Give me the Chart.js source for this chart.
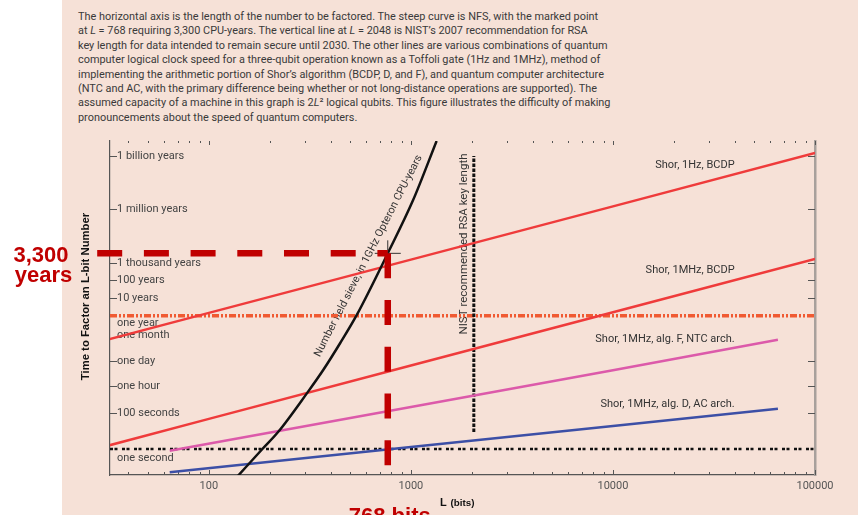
<!DOCTYPE html>
<html>
<head>
<meta charset="utf-8">
<script src="https://cdn.jsdelivr.net/npm/chart.js@4.4.0/dist/chart.umd.min.js"></script>
<style>
  html, body { margin: 0; padding: 0; background: #fff; }
  #wrap { position: relative; width: 858px; height: 515px; overflow: hidden; }
  #panel { position: absolute; left: 62px; top: 0; width: 796px; height: 515px; background: #f6e1d7; }
  #note { position: absolute; left: 78px; top: 10px; font: 10.9px Roboto, sans-serif; line-height: 14.4px; color: #3a3a3a; white-space: nowrap; }
  canvas { position: absolute; left: 0; top: 0; }
</style>
</head>
<body>
<div id="wrap">
  <div id="panel"></div>
  <div id="note">
    The horizontal axis is the length of the number to be factored. The steep curve is NFS, with the marked point<br>
    at <i>L</i> = 768 requiring 3,300 CPU-years. The vertical line at <i>L</i> = 2048 is NIST’s 2007 recommendation for RSA<br>
    key length for data intended to remain secure until 2030. The other lines are various combinations of quantum<br>
    computer logical clock speed for a three-qubit operation known as a Toffoli gate (1Hz and 1MHz), method of<br>
    implementing the arithmetic portion of Shor’s algorithm (BCDP, D, and F), and quantum computer architecture<br>
    (NTC and AC, with the primary difference being whether or not long-distance operations are supported). The<br>
    assumed capacity of a machine in this graph is 2<i>L</i>² logical qubits. This figure illustrates the difficulty of making<br>
    pronouncements about the speed of quantum computers.
  </div>
  <canvas id="chart" width="858" height="515"></canvas>
</div>
<script>
// axis ranges (L in bits, time in seconds)
const xMin = 32.4, xMax = 100000
const yMin = 0.0344, yMax = 2.2e17

const xTickValues = [100, 1000, 10000, 100000]
const xTickLabels = ['100', '1000', '10000', '100000']

const yTickSeconds = [3.156e16, 3.156e13, 3.156e10, 3.156e9, 3.156e8, 3.156e7, 2.63e6, 86400, 3600, 100, 1]
const yTickLabels = ['1 billion years', '1 million years', '1 thousand years', '100 years', '10 years',
  'one year', 'one month', 'one day', 'one hour', '100 seconds', 'one second']

// number field sieve, 1GHz Opteron
const nfsBits = [139, 184, 220, 306, 368, 446, 537, 768, 1024, 1340]
const nfsSeconds = [0.03, 1, 9, 1400, 2.8e4, 9e5, 3.2e7, 1.04e11, 1e14, 2.2e17]

// Shor, BCDP
const shorBits = [32, 100, 1000, 10000, 100000]
const shor1HzBcdp = [1.5e6, 4.6e7, 4.6e10, 4.6e13, 4.6e16]
const shor1MHzBcdp = [1.6, 50, 5e4, 5e7, 5e10]

// Shor, 1MHz, alg. F / alg. D
const archBits = [64, 1000, 10000, 65536]
const shor1MHzF = [0.8, 230, 2.7e4, 1.4e6]
const shor1MHzD = [0.049, 1.3, 19.5, 186]

const nistBits = [2048, 2048]
const nistSeconds = [9, 3.156e16]

const oneYear = 3.156e7
const oneSecond = 1

const markBits = 768
const markSeconds = 1.04e11 // 3,300 years

const pts = (xs, ys) => xs.map((x, i) => ({ x, y: ys[i] }))

const decor = {
  id: 'decor',
  beforeDatasetsDraw(chart) {
    const { ctx, chartArea: a, scales: { x, y } } = chart
    ctx.save()
    ctx.strokeStyle = '#555'
    ctx.lineWidth = 1

    // y ticks (inward on both sides) and labels inside the plot
    const bare = ['one year', 'one month', 'one second']
    const below = { 'one year': 7, 'one second': 9 }
    ctx.font = '11px Roboto'
    ctx.fillStyle = '#444'
    ctx.textAlign = 'left'
    ctx.textBaseline = 'middle'
    yTickSeconds.forEach((s, i) => {
      const py = Math.round(y.getPixelForValue(s)) + 0.5
      const lab = yTickLabels[i]
      if (!bare.includes(lab)) {
        ctx.beginPath()
        ctx.moveTo(a.left, py); ctx.lineTo(a.left + 7, py)
        ctx.moveTo(a.right, py); ctx.lineTo(a.right - 7, py)
        ctx.stroke()
      }
      ctx.fillText(lab, a.left + 7, py + (below[lab] || 0))
    })

    // x ticks top and bottom
    for (let e = 1; e <= 5; e++) {
      for (let m = 1; m <= 9; m++) {
        const v = m * Math.pow(10, e)
        if (v < xMin || v > xMax * 1.001) continue
        const px = Math.round(x.getPixelForValue(v)) + 0.5
        const major = m === 1
        ctx.beginPath()
        ctx.moveTo(px, a.top); ctx.lineTo(px, a.top + (major ? 4 : 2))
        ctx.moveTo(px, a.bottom); ctx.lineTo(px, a.bottom - (major ? 5 : 3))
        ctx.stroke()
      }
    }

    // series labels
    ctx.fillStyle = '#333'
    ctx.textAlign = 'right'
    const seriesLabels = [
      ['Shor, 1Hz, BCDP', 1e16],
      ['Shor, 1MHz, BCDP', 1.2e10],
      ['Shor, 1MHz, alg. F, NTC arch.', 1.6e6],
      ['Shor, 1MHz, alg. D, AC arch.', 340]
    ]
    const lx = x.getPixelForValue(40000)
    seriesLabels.forEach(([t, s]) => ctx.fillText(t, lx, y.getPixelForValue(s)))

    // rotated labels
    ctx.textAlign = 'center'
    ctx.save()
    ctx.translate(368.5, 256)
    ctx.rotate(-1.098)
    ctx.font = '10.8px Roboto'
    ctx.fillText('Number field sieve, in 1GHz Opteron CPU-years', 0, 0)
    ctx.restore()

    ctx.save()
    ctx.translate(x.getPixelForValue(2048) - 10, 244)
    ctx.rotate(-Math.PI / 2)
    ctx.font = '11.5px Roboto'
    ctx.fillText('NIST recommended RSA key length', 0, 0)
    ctx.restore()

    // axis titles
    ctx.save()
    ctx.translate(85.5, 296.5)
    ctx.rotate(-Math.PI / 2)
    ctx.fillStyle = '#111'
    ctx.font = 'bold 11.3px "Liberation Sans", Arial'
    ctx.fillText('Time to Factor an L-bit Number', 0, 0)
    ctx.restore()

    ctx.fillStyle = '#111'
    ctx.textAlign = 'left'
    ctx.textBaseline = 'alphabetic'
    ctx.font = 'bold 11px "Liberation Sans", Arial'
    ctx.fillText('L', 440, 506)
    ctx.font = 'bold 9.8px "Liberation Sans", Arial'
    ctx.fillText('(bits)', 450.5, 506)
    ctx.restore()
  },
  afterDraw(chart) {
    const { ctx, scales: { x } } = chart
    ctx.save()
    ctx.fillStyle = '#c00000'
    ctx.font = 'bold 22px "Liberation Sans", Arial'
    ctx.textAlign = 'center'
    ctx.textBaseline = 'alphabetic'
    ctx.fillText('3,300', 41, 262)
    ctx.fillText('years', 43.5, 281.5)
    ctx.fillText('768 bits', x.getPixelForValue(markBits) + 2, 523)
    ctx.restore()
  }
}

const ctx = document.getElementById('chart').getContext('2d')
new Chart(ctx, {
  type: 'line',
  data: {
    datasets: [
      { label: 'mark h', data: pts([28, markBits], [markSeconds, markSeconds]), borderColor: '#c00000', borderWidth: 6.5, borderDash: [25, 21.7], borderCapStyle: 'butt', clip: false },
      { label: 'mark v', data: pts([markBits, markBits], [markSeconds, yMin]), borderColor: '#c00000', borderWidth: 6.5, borderDash: [25, 21.7], borderCapStyle: 'butt', clip: false },
      { label: 'point', data: [{ x: markBits, y: markSeconds }], showLine: false, pointStyle: 'cross', pointRadius: 13, borderColor: '#333', borderWidth: 1 },
      { label: 'NFS', data: pts(nfsBits, nfsSeconds), borderColor: '#111', borderWidth: 2.5, cubicInterpolationMode: 'monotone' },
      { label: 'Shor, 1Hz, BCDP', data: pts(shorBits, shor1HzBcdp), borderColor: '#ef3b3b', borderWidth: 2.5 },
      { label: 'Shor, 1MHz, BCDP', data: pts(shorBits, shor1MHzBcdp), borderColor: '#ef3b3b', borderWidth: 2.5 },
      { label: 'Shor, 1MHz, alg. F, NTC arch.', data: pts(archBits, shor1MHzF), borderColor: '#dc5aaa', borderWidth: 2.5 },
      { label: 'Shor, 1MHz, alg. D, AC arch.', data: pts(archBits, shor1MHzD), borderColor: '#3c4fa6', borderWidth: 2.5 },
      { label: 'NIST', data: pts(nistBits, nistSeconds), borderColor: '#111', borderWidth: 3, borderDash: [3.5, 1.5] },
      { label: 'one year', data: pts([xMin, xMax], [oneYear, oneYear]), borderColor: '#f05a32', borderWidth: 3.5, borderDash: [7, 2, 2, 2, 2, 2] },
      { label: 'one second', data: pts([xMin, xMax], [oneSecond, oneSecond]), borderColor: '#111', borderWidth: 2.5, borderDash: [3, 1.5, 3, 4.5] }
    ]
  },
  options: {
    responsive: false,
    animation: false,
    events: [],
    layout: { padding: { top: 141, left: 0, right: 0, bottom: 0 } },
    elements: { point: { radius: 0 }, line: { tension: 0 } },
    plugins: { legend: { display: false }, tooltip: { enabled: false } },
    scales: {
      x: {
        type: 'logarithmic', min: xMin, max: xMax, bounds: 'data',
        grid: { display: false, drawTicks: false },
        border: { color: '#555', width: 1.2 },
        ticks: {
          color: '#555', font: { family: 'Roboto', size: 11 }, padding: 5,
          autoSkip: false, maxRotation: 0,
          callback: (v) => { const i = xTickValues.indexOf(v); return i < 0 ? '' : xTickLabels[i] }
        },
        afterBuildTicks: (s) => { s.ticks = xTickValues.map(v => ({ value: v })) },
        afterFit: (s) => { s.height = 40 }
      },
      y: {
        type: 'logarithmic', min: yMin, max: yMax, bounds: 'data',
        ticks: { display: false },
        grid: { display: false },
        border: { color: '#555', width: 1.2 },
        afterFit: (s) => { s.width = 110 }
      },
      y2: {
        type: 'logarithmic', position: 'right', min: yMin, max: yMax, bounds: 'data',
        ticks: { display: false },
        grid: { display: false },
        border: { color: '#a8a09c', width: 2.5 },
        afterFit: (s) => { s.width = 43 }
      }
    }
  },
  plugins: [decor]
})
</script>
</body>
</html>
